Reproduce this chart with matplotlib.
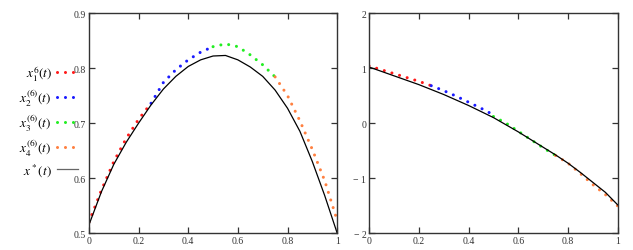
import matplotlib
matplotlib.use("Agg")
import matplotlib.pyplot as plt

plt.rcParams['mathtext.fontset'] = 'stix'

# ---- data ----
t_all = [0, 0.05, 0.1, 0.15, 0.2, 0.25, 0.3, 0.35, 0.4, 0.45, 0.5,
         0.55, 0.6, 0.65, 0.7, 0.75, 0.8, 0.85, 0.9, 0.95, 1.0]
t_seg1 = [0, 0.05, 0.1, 0.15, 0.2, 0.25]
t_seg2 = [0.25, 0.3, 0.35, 0.4, 0.45, 0.5]
t_seg3 = [0.5, 0.55, 0.6, 0.65, 0.7, 0.75]
t_seg4 = [0.75, 0.8, 0.85, 0.9, 0.95, 1.0]

# left panel
L_exact = [0.515, 0.575, 0.625, 0.665, 0.70, 0.733, 0.762, 0.785, 0.803, 0.815, 0.822,
           0.823, 0.815, 0.802, 0.785, 0.760, 0.727, 0.685, 0.630, 0.568, 0.50]
L_x1 = [0.52, 0.578, 0.63, 0.672, 0.707, 0.736]
L_x2 = [0.736, 0.774, 0.797, 0.815, 0.829, 0.839]
L_x3 = [0.839, 0.844, 0.839, 0.824, 0.806, 0.784]
L_x4 = [0.784, 0.750, 0.704, 0.652, 0.595, 0.523]

# right panel
R_exact = [1.02, 0.94, 0.86, 0.78, 0.70, 0.61, 0.52, 0.42, 0.32, 0.21, 0.10,
           -0.03, -0.16, -0.30, -0.44, -0.58, -0.73, -0.90, -1.08, -1.26, -1.49]
R_x1 = [1.04, 0.97, 0.90, 0.83, 0.76, 0.68]
R_x2 = [0.68, 0.59, 0.49, 0.38, 0.27, 0.15]
R_x3 = [0.12, 0.00, -0.15, -0.30, -0.45, -0.59]
R_x4 = [-0.59, -0.73, -0.92, -1.12, -1.30, -1.51]

x_ticks = [0, 0.2, 0.4, 0.6, 0.8, 1]
x_ticklabels = ["0", "0.2", "0.4", "0.6", "0.8", "1"]
L_yticks = [0.5, 0.6, 0.7, 0.8, 0.9]
L_yticklabels = ["0.5", "0.6", "0.7", "0.8", "0.9"]
R_yticks = [-2, -1, 0, 1, 2]
R_yticklabels = ["\u2212 2", "\u2212 1", "0", "1", "2"]

labels = [r"$x_1^6(t)$", r"$x_2^{(6)}(t)$", r"$x_3^{(6)}(t)$", r"$x_4^{(6)}(t)$", r"$x^*(t)$"]
colors = ["#ff1a1a", "#1a1aff", "#22ee22", "#ff8040"]

fig = plt.figure(figsize=(6.33, 2.51), dpi=100)
axL = fig.add_axes([0.1406, 0.0677, 0.392, 0.876])
axR = fig.add_axes([0.583, 0.0677, 0.393, 0.876])

dot = dict(linestyle=(0, (0.01, 2.6)), dash_capstyle='round', linewidth=2.2)

def draw(ax, segs, exact, yticks, yticklabels, ylim):
    handles = []
    for (tt, yy), c, lab in zip(segs, colors, labels[:4]):
        h, = ax.plot(tt, yy, color=c, label=lab, **dot)
        handles.append(h)
    h, = ax.plot(t_all, exact, color='black', linewidth=0.9, label=labels[4])
    handles.append(h)
    ax.set_xlim(0, 1)
    ax.set_ylim(*ylim)
    ax.set_xticks(x_ticks)
    ax.set_xticklabels(x_ticklabels)
    ax.set_yticks(yticks)
    ax.set_yticklabels(yticklabels)
    ax.tick_params(direction='in', length=4, width=0.9, top=True, right=True,
                   labelsize=7, colors='#333333', pad=2)
    for lab in ax.get_xticklabels() + ax.get_yticklabels():
        lab.set_fontfamily('Liberation Serif')
    for s in ax.spines.values():
        s.set_linewidth(1.0)
        s.set_color('#333333')
    return handles

hL = draw(axL, [(t_seg1, L_x1), (t_seg2, L_x2), (t_seg3, L_x3), (t_seg4, L_x4)],
          L_exact, L_yticks, L_yticklabels, (0.5, 0.9))
draw(axR, [(t_seg1, R_x1), (t_seg2, R_x2), (t_seg3, R_x3), (t_seg4, R_x4)],
     R_exact, R_yticks, R_yticklabels, (-2, 2))

leg = fig.legend(handles=hL, labels=labels, loc='center left',
                 bbox_to_anchor=(0.012, 0.515), frameon=False, markerfirst=False,
                 handlelength=1.6, handletextpad=0.4, labelspacing=0.3,
                 fontsize=9.5)
for h in leg.get_lines()[-1:]:
    h.set_color('#666666')

fig.savefig("out.png", dpi=100)
